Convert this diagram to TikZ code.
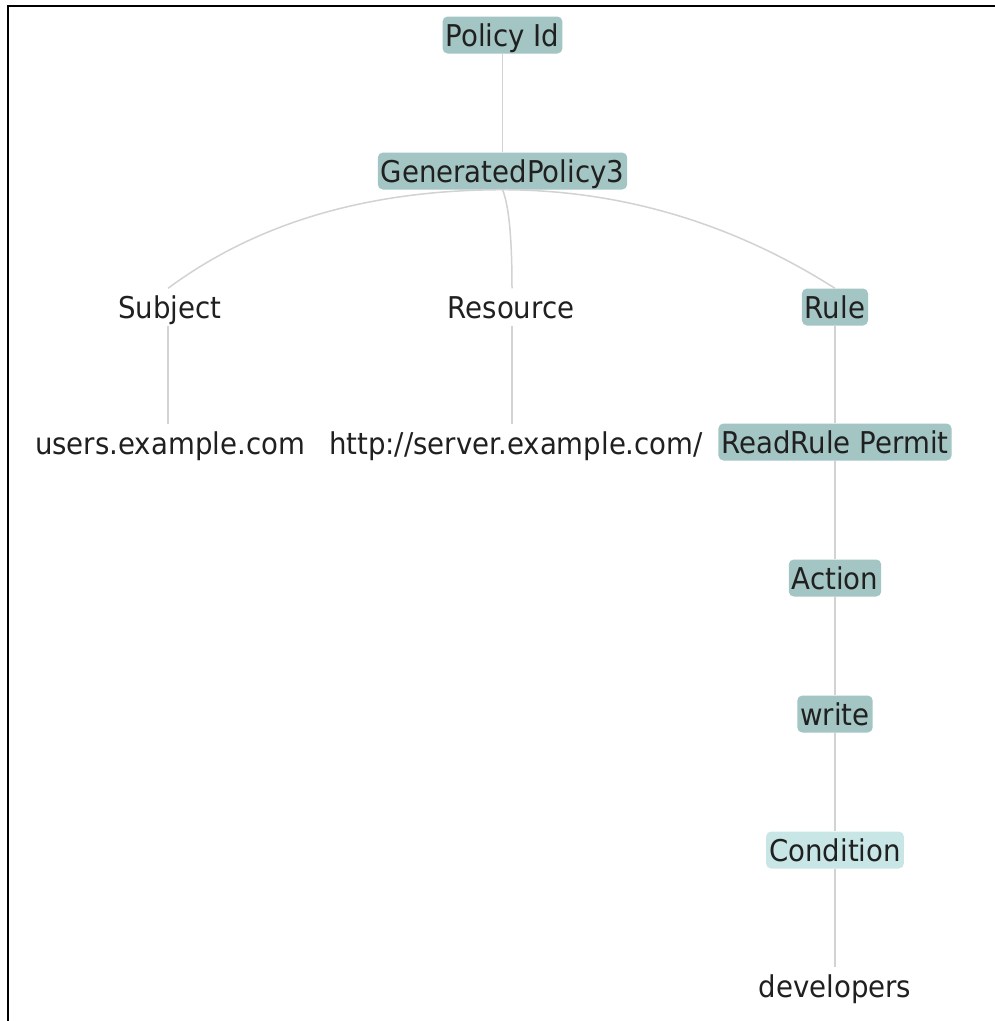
\documentclass[tikz,border=0pt]{standalone}
\usepackage{fontspec}
\setmainfont[FakeStretch=0.92]{DejaVu Sans}
\definecolor{nodefill}{HTML}{A3C5C4}
\definecolor{condfill}{HTML}{C8E6E6}
\definecolor{edgecol}{HTML}{D2D2D2}
\definecolor{txtcol}{HTML}{202020}
\begin{document}
\begin{tikzpicture}[x=1pt,y=-1pt,
  lbl/.style={font=\fontsize{30}{32}\selectfont, text=txtcol, text height=22pt, text depth=0pt,
    inner xsep=3pt, inner ysep=7.5pt, rounded corners=5pt},
  dark/.style={lbl, fill=nodefill},
  light/.style={lbl, fill=condfill},
  plain/.style={lbl},
  edge/.style={draw=edgecol, line width=1.5pt}]
\useasboundingbox (0,0) rectangle (995,1021);
\fill[white] (0,0) rectangle (995,1021);
\draw[line width=2pt] (8.2,1021) -- (8.2,6.2) -- (995,6.2);

\node[dark]  (pid)   at (502.5,35)  {Policy Id};
\node[dark]  (gp)    at (502.5,171) {GeneratedPolicy3};
\node[plain] (subj)  at (170,307)   {Subject};
\node[plain] (res)   at (511,307)   {Resource};
\node[dark]  (rule)  at (835,307)   {Rule};
\node[plain] (users) at (170,443)   {users.example.com};
\node[plain] (http)  at (516,443)   {http://server.example.com/};
\node[dark]  (rr)    at (835,442)   {ReadRule Permit};
\node[dark]  (act)   at (835,578)   {Action};
\node[dark]  (wr)    at (835,714)   {write};
\node[light] (cond)  at (835,850)   {Condition};
\node[plain] (dev)   at (835,986)   {developers};

\draw[edge] (pid.south) -- (gp.north);
\draw[edge] (gp.south) .. controls (367.5,190) and (256.7,222.7) .. ([xshift=-2pt]subj.north);
\draw[edge] (gp.south) .. controls (508.8,204.7) and (512,237.3) .. ([xshift=1pt]res.north);
\draw[edge] (gp.south) .. controls (620.8,190) and (731.7,222.7) .. (rule.north);
\draw[edge] ([xshift=-2pt]subj.south) -- ([xshift=-2pt]users.north);
\draw[edge] ([xshift=1pt]res.south) -- ([xshift=-4pt]http.north);
\draw[edge] (rule.south) -- (rr.north);
\draw[edge] (rr.south) -- (act.north);
\draw[edge] (act.south) -- (wr.north);
\draw[edge] (wr.south) -- (cond.north);
\draw[edge] (cond.south) -- (dev.north);
\end{tikzpicture}
\end{document}
